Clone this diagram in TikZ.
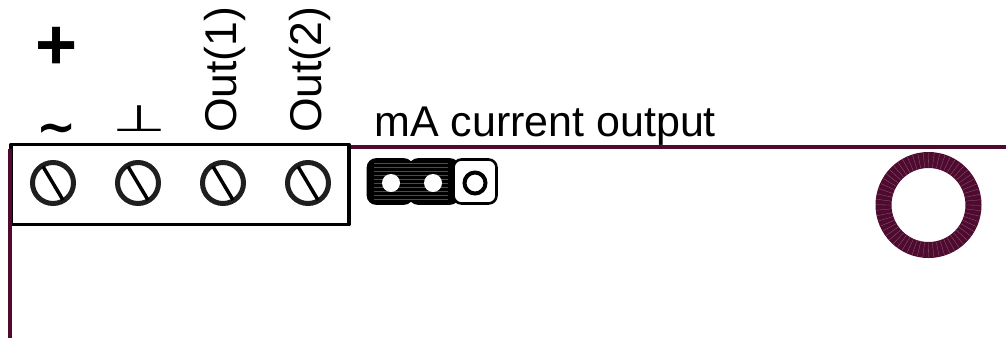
\documentclass[tikz,border=0pt]{standalone}
\usepackage{fontspec}
\setmainfont{Liberation Sans}
\newfontfamily\symfont{DejaVu Sans}
\definecolor{trace}{HTML}{4F0A30}
\begin{document}
\begin{tikzpicture}[x=1pt,y=-1pt,
  trace line/.style={draw=trace,line width=3.6pt},
  box line/.style={draw=black,line width=3.8pt,line join=round},
  screw head/.style={draw=black!88,line width=5pt},
  slot/.style={draw=black,line width=3.5pt},
  label text/.style={inner sep=0pt,font=\fontsize{43}{43}\selectfont,text=black},
  rot text/.style={label text,font=\fontsize{44.5}{44.5}\selectfont,rotate=90,anchor=base west},
  pad/.style={line width=2.6pt,draw=black,rounded corners=8pt}]
\useasboundingbox (0,0) rectangle (1006,338);
% traces and terminal block
\coordinate (traceTopA) at (349,147);
\coordinate (traceTopB) at (1006,147);
\coordinate (traceLeftA) at (10,149);
\coordinate (traceLeftB) at (10,338);
\draw[trace line] (traceTopA) -- (traceTopB);
\draw[box line] (11,144.5) rectangle (349,224.5);
\draw[trace line] (traceLeftA) -- (traceLeftB);
\foreach \name/\cx in {a/53,b/138,c/223,d/308}{
  \draw[screw head] (\cx,183) circle (20.5);
  \draw[slot] (\cx-10,166.5) -- (\cx+10,200);
}
% labels
\node[label text,font=\fontsize{72}{72}\selectfont\bfseries] (plus) at (56.5,48) {+};
\node[label text,font=\fontsize{48}{48}\selectfont\bfseries] (tilde) at (57,134) {\symfont\char"223C};
\node[label text,font=\fontsize{40}{40}\selectfont\symfont,transform shape,xscale=1.55,yscale=.92] (perp) at (139.5,119) {⊥};
\node[rot text] (out1) at (236.5,133) {Out(1)};
\node[rot text] (out2) at (321.5,133) {Out(2)};
\node[label text,anchor=base west] (title) at (374,136) {mA current output};
% jumper pads
\draw[pad,fill=black] (368,159.5) rectangle (412,203.5);
\draw[pad,fill=black] (410,159.5) rectangle (458,203.5);
\foreach \yy in {163,167,...,200}{
  \draw[black!70,line width=.25pt] (374,\yy) -- (448,\yy);
}
\draw[pad,fill=white] (453.5,159.5) rectangle (496.5,203.5);
\fill[white] (391,183) circle (9);
\fill[white] (433,183) circle (9);
\draw[black,line width=4pt,fill=white] (475,183) circle (10.5);
% mounting ring
\draw[trace,line width=16pt] (928.5,205) circle (45);
\foreach \aa in {0,6,...,354}{
  \draw[trace!65!white,line width=.3pt] (928.5,205) ++(\aa:37.5) -- ++(\aa+1:15);
}
\end{tikzpicture}
\end{document}
